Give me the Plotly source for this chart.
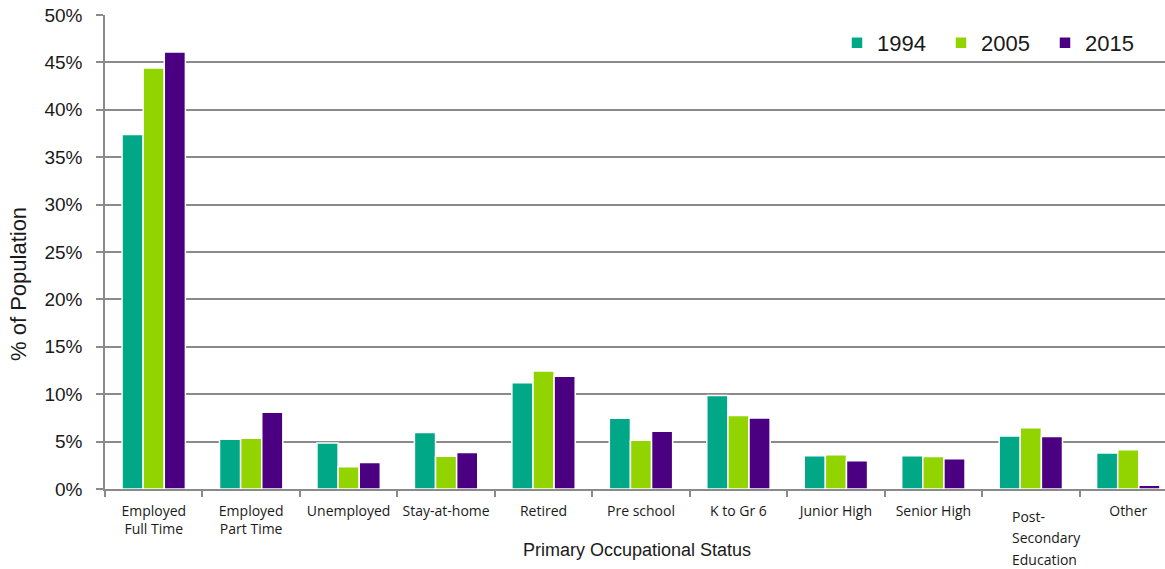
import plotly.graph_objects as go

# Share of population by primary occupational status (percent)
categories = [
    "Employed Full Time", "Employed Part Time", "Unemployed", "Stay-at-home",
    "Retired", "Pre school", "K to Gr 6", "Junior High", "Senior High",
    "Post-Secondary Education", "Other",
]
tick_labels = [
    "Employed<br>Full Time", "Employed<br>Part Time", "Unemployed", "Stay-at-home",
    "Retired", "Pre school", "K to Gr 6", "Junior High", "Senior High",
    "", "Other",
]
# the post-secondary label is set in three spaced lines below its tick
post_secondary_lines = ["Post-", "Secondary", "Education"]
years = ["1994", "2005", "2015"]
values_1994 = [37.4, 5.25, 4.85, 5.95, 11.2, 7.45, 9.85, 3.5, 3.5, 5.6, 3.8]
values_2005 = [44.4, 5.35, 2.35, 3.45, 12.45, 5.15, 7.75, 3.6, 3.42, 6.45, 4.15]
values_2015 = [46.1, 8.1, 2.8, 3.85, 11.9, 6.1, 7.5, 2.97, 3.2, 5.55, 0.4]
y_ticks = list(range(0, 51, 5))
y_tick_labels = [f"{v}%" for v in y_ticks]
colors = ["#00A887", "#92D400", "#4B0082"]

W, H = 1165, 569
L, R, T, B = 105, 0, 15, 80
pw, ph = W - L - R, H - T - B

fig = go.Figure()
for name, vals, col in zip(years, [values_1994, values_2005, values_2015], colors):
    fig.add_trace(go.Bar(
        x=categories, y=vals, name=name,
        marker=dict(color=col, line=dict(color="white", width=1.5)),
    ))

def px_x(x):
    return (x - L) / pw

def px_y(y):
    return (H - B - y) / ph

label_font = dict(family="Open Sans, sans-serif", size=14, color="#1a1a1a")
annotations = [
    dict(text="% of Population", textangle=-90, xref="paper", yref="paper",
         x=px_x(18), y=px_y(284), xanchor="center", yanchor="middle",
         showarrow=False, font=dict(size=22, color="#1a1a1a")),
    dict(text="Primary Occupational Status", xref="paper", yref="paper",
         x=px_x(637), y=px_y(550), xanchor="center", yanchor="middle",
         showarrow=False, font=dict(size=18, color="#1a1a1a")),
]
for i, line in enumerate(post_secondary_lines):
    annotations.append(dict(
        text=line, xref="paper", yref="paper",
        x=px_x(1010), y=px_y(516 + 21.5 * i), xanchor="left", yanchor="middle",
        showarrow=False, font=label_font,
    ))

grid_col = "#8a8a8a"
fig.update_layout(
    width=W, height=H,
    margin=dict(l=L, r=R, t=T, b=B, autoexpand=False),
    paper_bgcolor="white", plot_bgcolor="white",
    barmode="group", bargap=0.35, bargroupgap=0,
    font=dict(family="Liberation Sans, Arial, sans-serif", color="#1a1a1a"),
    legend=dict(
        orientation="h", x=px_x(837), y=px_y(43), xanchor="left", yanchor="middle",
        bgcolor="rgba(0,0,0,0)", font=dict(size=22, color="#1a1a1a"),
        entrywidth=59, itemwidth=30,
    ),
    xaxis=dict(
        range=[-0.5, 10.5 - 12 / 97.5], automargin=False,
        tickmode="array", tickvals=categories, ticktext=tick_labels,
        tickson="boundaries", ticks="outside", ticklen=6, tickcolor=grid_col, tickwidth=1.5,
        showline=True, linecolor=grid_col, linewidth=1.5,
        showgrid=False, ticklabelstandoff=8,
        tickfont=label_font,
    ),
    yaxis=dict(
        range=[0, 50], automargin=False,
        tickmode="array", tickvals=y_ticks, ticktext=y_tick_labels,
        ticks="outside", ticklen=7, tickcolor=grid_col, tickwidth=1.5,
        showline=True, linecolor=grid_col, linewidth=1.5,
        showgrid=True, gridcolor=grid_col, gridwidth=1.5,
        zeroline=False, ticklabelstandoff=10,
        tickfont=dict(size=19, color="#1a1a1a"),
    ),
    annotations=annotations,
)

fig.write_html("out.html")
